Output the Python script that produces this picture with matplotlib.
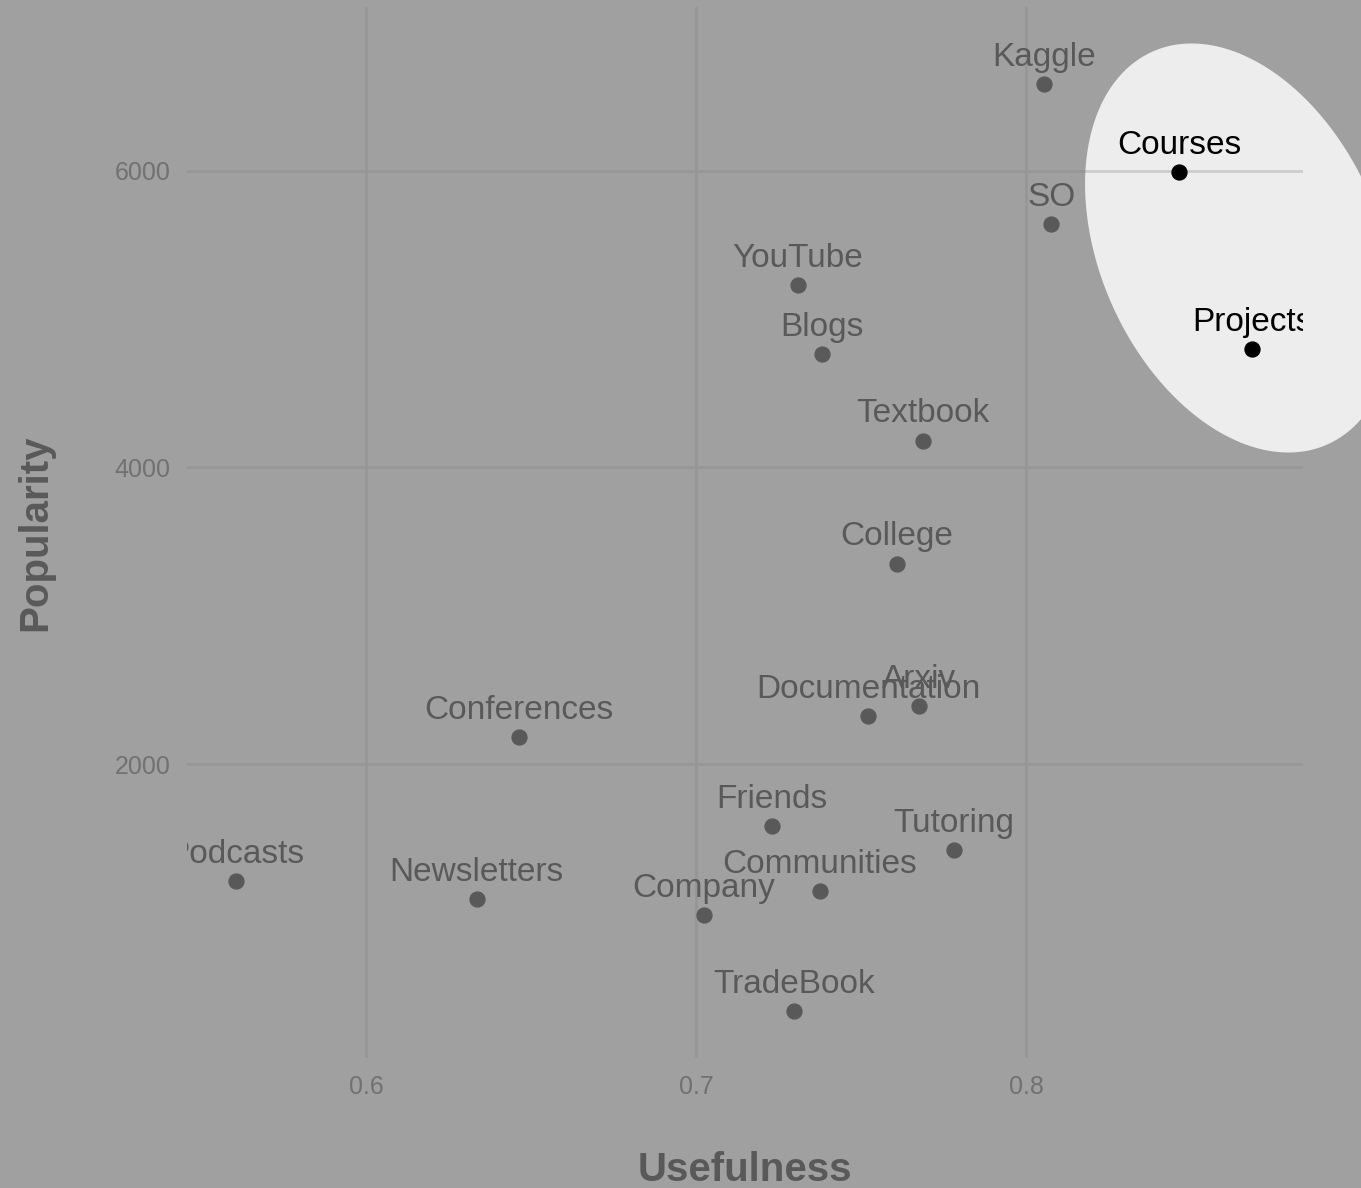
import numpy as np
import matplotlib.pyplot as plt
from matplotlib.path import Path
from matplotlib.patches import PathPatch, Polygon

plt.rcParams['font.family'] = ['Liberation Sans', 'DejaVu Sans']

# Learning resources: usefulness vs popularity
tools = ["Kaggle", "Courses", "SO", "YouTube", "Projects", "Blogs", "Textbook",
         "College", "Arxiv", "Documentation", "Conferences", "Friends",
         "Tutoring", "Podcasts", "Communities", "Newsletters", "Company",
         "TradeBook"]
usefulness = [0.8055, 0.8464, 0.8076, 0.7309, 0.8685, 0.7382, 0.7688,
              0.7609, 0.7676, 0.7521, 0.6464, 0.7230,
              0.7782, 0.5606, 0.7376, 0.6336, 0.7024,
              0.7297]
popularity = [6587, 5993, 5643, 5231, 4799, 4766, 4182,
              3352, 2391, 2324, 2182, 1582,
              1420, 1211, 1143, 1089, 981,
              334]

x_ticks = [0.6, 0.7, 0.8]
y_ticks = [2000, 4000, 6000]

W, H = 1361, 1188
fig = plt.figure(figsize=(W / 100, H / 100), dpi=100)
fig.patch.set_facecolor('white')
ax = fig.add_axes([187 / W, 1 - 1058 / H, (1303 - 187) / W, (1058 - 7) / H])

ax.scatter(usefulness, popularity, s=115, color='black', zorder=3, clip_on=True)
for name, u, p in zip(tools, usefulness, popularity):
    ax.text(u, p + 180, name, ha='center', va='center', fontsize=24,
            color='black', clip_on=True, zorder=4)

ax.set_xlim(0.5458, 0.8839)
ax.set_ylim(17, 7106)
ax.set_xticks(x_ticks)
ax.set_yticks(y_ticks)
ax.set_xticklabels([str(v) for v in x_ticks])
ax.set_yticklabels([str(v) for v in y_ticks])
ax.tick_params(length=0, labelsize=18, labelcolor='#555555', pad=12)
ax.grid(True, color='#dcdcdc', linewidth=2)
ax.set_axisbelow(True)
for s in ax.spines.values():
    s.set_visible(False)
ax.set_xlabel('Usefulness', fontsize=29, fontweight='bold', labelpad=38)
ax.set_ylabel('Popularity', fontsize=29, fontweight='bold', labelpad=43)

# spotlight: dark overlay everywhere except an ellipse around the best resources
cx, cy, a, b, ang = 1240, 248, 215, 140, np.radians(24)
t = np.linspace(0, 2 * np.pi, 300)
ux, uy = np.sin(ang), np.cos(ang)
vx, vy = np.cos(ang), -np.sin(ang)
ex = cx + a * np.cos(t) * ux + b * np.sin(t) * vx
ey = cy + a * np.cos(t) * uy + b * np.sin(t) * vy
ell = np.column_stack([ex / W, 1 - ey / H])
area = 0.5 * np.sum(ell[:-1, 0] * ell[1:, 1] - ell[1:, 0] * ell[:-1, 1])
if area > 0:
    ell = ell[::-1]
rect = np.array([[0, 0], [1, 0], [1, 1], [0, 1], [0, 0]])
verts = np.vstack([rect, ell])
codes = ([Path.MOVETO] + [Path.LINETO] * 3 + [Path.CLOSEPOLY] +
         [Path.MOVETO] + [Path.LINETO] * (len(ell) - 2) + [Path.CLOSEPOLY])
shade = PathPatch(Path(verts, codes), facecolor='#7c7c7c', alpha=0.7255,
                  edgecolor='none', transform=fig.transFigure, zorder=10)
fig.add_artist(shade)
inner = Polygon(ell, closed=True, facecolor='black', alpha=0.07,
                edgecolor='none', transform=fig.transFigure, zorder=10)
fig.add_artist(inner)

fig.savefig('out.png', dpi=100)
